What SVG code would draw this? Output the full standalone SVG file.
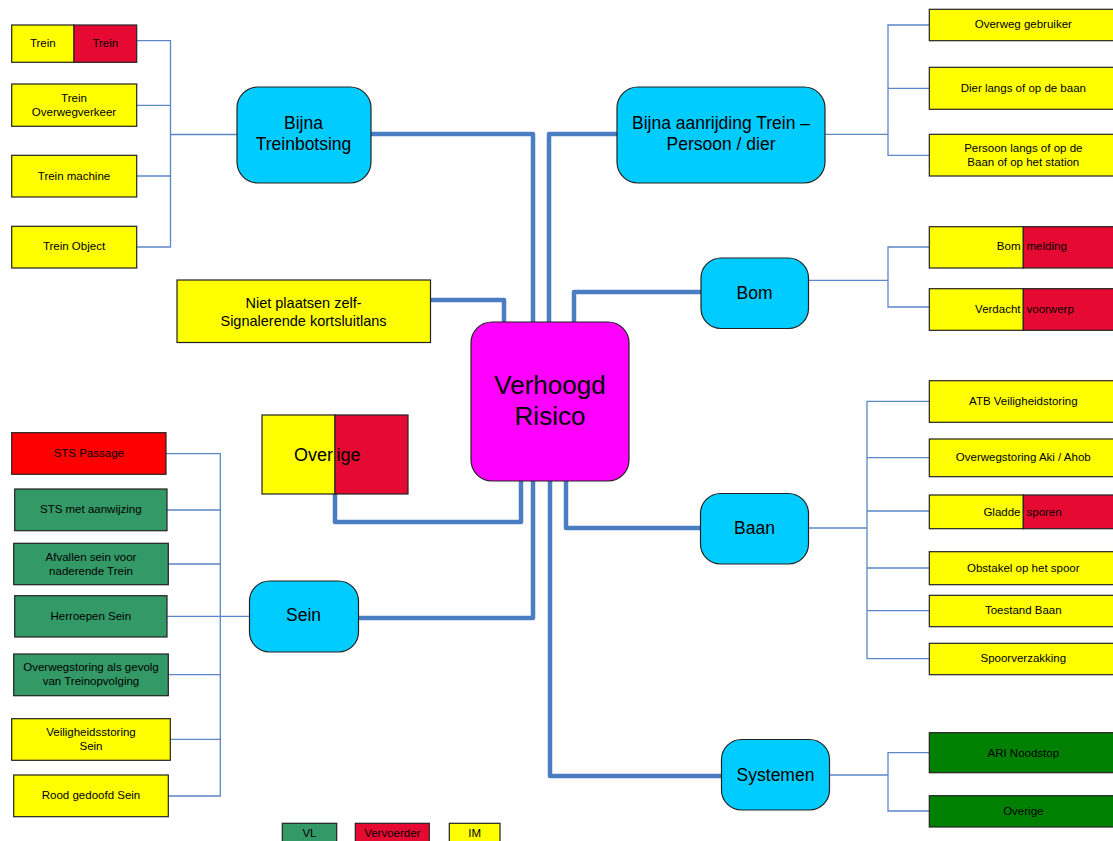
<svg xmlns="http://www.w3.org/2000/svg" width="1113" height="841" viewBox="0 0 1113 841">
<style>
text{font-family:"Liberation Sans",Arial,sans-serif;fill:#000;}
.s{font-size:11.5px;text-anchor:middle;}
.se{font-size:11.5px;text-anchor:end;}
.ss{font-size:11.5px;text-anchor:start;}
.n{font-size:17.5px;text-anchor:middle;}
.box{stroke:#222;stroke-width:1.2;}
.y{fill:#FFFF00;}
.r{fill:#E60A32;}
.rr{fill:#FF0000;}
.g{fill:#339966;}
.dg{fill:#008000;}
.node{fill:#00CCFF;stroke:#222;stroke-width:1.2;}
.thick{fill:none;stroke:#4A7DC2;stroke-width:4.5;stroke-linejoin:round;}
.thin{fill:none;stroke:#5B87C9;stroke-width:1.3;}
</style>
<rect width="1113" height="841" fill="#fff"/>

<g id="connectors">
  <!-- thick from center -->
  <path class="thick" d="M370,134 H533 V322"/>
  <path class="thick" d="M618,134 H549 V322"/>
  <path class="thick" d="M430,300 H504 V322"/>
  <path class="thick" d="M701,292 H574 V322"/>
  <path class="thick" d="M521,480 V522 H335 V494"/>
  <path class="thick" d="M533,480 V618 H358"/>
  <path class="thick" d="M550,480 V776 H722"/>
  <path class="thick" d="M566,480 V528 H701"/>
  <!-- Bijna Treinbotsing branch -->
  <path class="thin" d="M237,134.5 H170.5 M137,40.7 H170.5 V247 H137 M137,105.3 H170.5 M137,176 H170.5"/>
  <!-- Bijna aanrijding branch -->
  <path class="thin" d="M825,134.3 H888 M929,25 H888 V155.3 H929 M929,88.3 H888"/>
  <!-- Bom branch -->
  <path class="thin" d="M808,280.3 H888 M929,247 H888 V307 H929"/>
  <!-- Baan branch -->
  <path class="thin" d="M809,528 H867 M929,401.3 H867 V658.7 H929 M929,457.7 H867 M929,511 H867 M929,568 H867 M929,610.7 H867"/>
  <!-- Systemen branch -->
  <path class="thin" d="M830,775 H888 M929,752.7 H888 V811 H929"/>
  <!-- Sein branch -->
  <path class="thin" d="M249,616.3 H220.3 M166,453.7 H220.3 V796 H168 M167,510 H220.3 M168,564 H220.3 M167,616.3 H220.3 M168,674.7 H220.3 M170,739.3 H220.3"/>
</g>

<g id="center">
  <rect x="471" y="322" width="158" height="159" rx="21" fill="#FF00FF" stroke="#222" stroke-width="1.2"/>
  <text x="550" y="394" style="font-size:26px;text-anchor:middle">Verhoogd</text>
  <text x="550" y="425" style="font-size:26px;text-anchor:middle">Risico</text>
</g>

<g id="bijna-treinbotsing">
  <rect class="node" x="237" y="87" width="134" height="96" rx="21"/>
  <text class="n" x="303.5" y="129">Bijna</text>
  <text class="n" x="303.5" y="150">Treinbotsing</text>
</g>

<g id="bijna-aanrijding">
  <rect class="node" x="617" y="87" width="208" height="96" rx="21"/>
  <text class="n" x="721" y="129">Bijna aanrijding Trein –</text>
  <text class="n" x="721" y="150">Persoon / dier</text>
</g>

<g id="bom">
  <rect class="node" x="701" y="258" width="107.5" height="70.5" rx="20"/>
  <text class="n" x="754.5" y="298.5">Bom</text>
</g>

<g id="baan">
  <rect class="node" x="700.5" y="493.5" width="108" height="70.5" rx="20"/>
  <text class="n" x="754.5" y="534">Baan</text>
</g>

<g id="sein">
  <rect class="node" x="249.5" y="581" width="109" height="71" rx="20"/>
  <text class="n" x="303.5" y="621">Sein</text>
</g>

<g id="systemen">
  <rect class="node" x="721.5" y="739.5" width="108" height="70.5" rx="20"/>
  <text class="n" x="775.5" y="781">Systemen</text>
</g>

<g id="niet-plaatsen">
  <rect class="box y" x="177" y="280" width="253.5" height="62.5"/>
  <text x="303.5" y="307.5" style="font-size:14.5px;text-anchor:middle">Niet plaatsen zelf-</text>
  <text x="303.5" y="325.5" style="font-size:14.5px;text-anchor:middle">Signalerende kortsluitlans</text>
</g>

<g id="overige-midden">
  <rect class="box y" x="262" y="415" width="73" height="79"/>
  <rect class="box r" x="335" y="415" width="73" height="79"/>
  <text x="333" y="460.5" style="font-size:18px;text-anchor:end">Over</text>
  <text x="336.5" y="460.5" style="font-size:18px;text-anchor:start">ige</text>
</g>

<!-- Bijna Treinbotsing children -->
<g id="trein-trein">
  <rect class="box y" x="11.7" y="25" width="62.3" height="37.3"/>
  <rect class="box r" x="74" y="25" width="62.7" height="37.3"/>
  <text class="s" x="42.8" y="47">Trein</text>
  <text class="s" x="105.3" y="47">Trein</text>
</g>
<g id="trein-overwegverkeer">
  <rect class="box y" x="11.7" y="84" width="125" height="42.3"/>
  <text class="s" x="74" y="102">Trein</text>
  <text class="s" x="74" y="116">Overwegverkeer</text>
</g>
<g id="trein-machine">
  <rect class="box y" x="11.7" y="155.3" width="125" height="41.7"/>
  <text class="s" x="74" y="180">Trein machine</text>
</g>
<g id="trein-object">
  <rect class="box y" x="11.7" y="226.3" width="125" height="41.7"/>
  <text class="s" x="74" y="250">Trein Object</text>
</g>

<!-- Bijna aanrijding children -->
<g id="overweg-gebruiker">
  <rect class="box y" x="929.3" y="9.3" width="190" height="31.4"/>
  <text class="s" x="1023.3" y="28">Overweg gebruiker</text>
</g>
<g id="dier-langs">
  <rect class="box y" x="929.3" y="67.3" width="190" height="42"/>
  <text class="s" x="1023.3" y="92">Dier langs of op de baan</text>
</g>
<g id="persoon-langs">
  <rect class="box y" x="929.3" y="134.3" width="190" height="41.7"/>
  <text class="s" x="1023.3" y="151.7">Persoon langs of op de</text>
  <text class="s" x="1023.3" y="166">Baan of op het station</text>
</g>

<!-- Bom children -->
<g id="bom-melding">
  <rect class="box y" x="929.3" y="226.7" width="94" height="41.3"/>
  <rect class="box r" x="1023.3" y="226.7" width="96" height="41.3"/>
  <text class="se" x="1020.5" y="250">Bom</text>
  <text class="ss" x="1026.5" y="250">melding</text>
</g>
<g id="verdacht-voorwerp">
  <rect class="box y" x="929.3" y="288.7" width="94" height="41.6"/>
  <rect class="box r" x="1023.3" y="288.7" width="96" height="41.6"/>
  <text class="se" x="1020.5" y="313">Verdacht</text>
  <text class="ss" x="1026.5" y="313">voorwerp</text>
</g>

<!-- Baan children -->
<g id="atb">
  <rect class="box y" x="929.3" y="380.7" width="190" height="41.6"/>
  <text class="s" x="1023.3" y="405.3">ATB Veiligheidstoring</text>
</g>
<g id="overwegstoring-aki">
  <rect class="box y" x="929.3" y="439" width="190" height="37.7"/>
  <text class="s" x="1023.3" y="461.3">Overwegstoring Aki / Ahob</text>
</g>
<g id="gladde-sporen">
  <rect class="box y" x="929.3" y="495" width="94" height="33.7"/>
  <rect class="box r" x="1023.3" y="495" width="96" height="33.7"/>
  <text class="se" x="1020.5" y="515.7">Gladde</text>
  <text class="ss" x="1026.5" y="515.7">sporen</text>
</g>
<g id="obstakel">
  <rect class="box y" x="929.3" y="551.7" width="190" height="33"/>
  <text class="s" x="1023.3" y="572">Obstakel op het spoor</text>
</g>
<g id="toestand-baan">
  <rect class="box y" x="929.3" y="595.3" width="190" height="31.4"/>
  <text class="s" x="1023.3" y="614">Toestand Baan</text>
</g>
<g id="spoorverzakking">
  <rect class="box y" x="929.3" y="643.3" width="190" height="31.4"/>
  <text class="s" x="1023.3" y="661.7">Spoorverzakking</text>
</g>

<!-- Systemen children -->
<g id="ari-noodstop">
  <rect class="box dg" x="929.3" y="732.7" width="190" height="40"/>
  <text class="s" x="1023.3" y="756.7">ARI Noodstop</text>
</g>
<g id="overige-systemen">
  <rect class="box dg" x="929.3" y="795.7" width="190" height="31.3"/>
  <text class="s" x="1023.3" y="815">Overige</text>
</g>

<!-- Sein children -->
<g id="sts-passage">
  <rect class="box rr" x="11.7" y="432.7" width="154.3" height="41.6"/>
  <text class="s" x="88.8" y="456.7">STS Passage</text>
</g>
<g id="sts-aanwijzing">
  <rect class="box g" x="14.7" y="489" width="152.3" height="41.7"/>
  <text class="s" x="90.8" y="513">STS met aanwijzing</text>
</g>
<g id="afvallen-sein">
  <rect class="box g" x="13.7" y="543.3" width="154.6" height="41.4"/>
  <text class="s" x="91" y="560.7">Afvallen sein voor</text>
  <text class="s" x="91" y="574.7">naderende Trein</text>
</g>
<g id="herroepen-sein">
  <rect class="box g" x="14.7" y="595.7" width="152.3" height="41.3"/>
  <text class="s" x="90.8" y="620">Herroepen Sein</text>
</g>
<g id="overwegstoring-gevolg">
  <rect class="box g" x="13.7" y="654" width="154.6" height="41.7"/>
  <text class="s" x="91" y="671.3">Overwegstoring als gevolg</text>
  <text class="s" x="91" y="685">van Treinopvolging</text>
</g>
<g id="veiligheidsstoring-sein">
  <rect class="box y" x="11.7" y="718.7" width="158.6" height="41.6"/>
  <text class="s" x="91" y="736.3">Veiligheidsstoring</text>
  <text class="s" x="91" y="750">Sein</text>
</g>
<g id="rood-gedoofd">
  <rect class="box y" x="13.7" y="775" width="154.6" height="41.7"/>
  <text class="s" x="91" y="799">Rood gedoofd Sein</text>
</g>

<!-- Legend -->
<g id="legend-vl">
  <rect class="box g" x="282.3" y="823.3" width="54.4" height="25"/>
  <text class="s" x="309.5" y="836.5">VL</text>
</g>
<g id="legend-vervoerder">
  <rect class="box r" x="355.3" y="823.3" width="74" height="25"/>
  <text class="s" x="392.3" y="836.5">Vervoerder</text>
</g>
<g id="legend-im">
  <rect class="box y" x="449.3" y="823.3" width="50.7" height="25"/>
  <text class="s" x="474.7" y="836.5">IM</text>
</g>
</svg>
